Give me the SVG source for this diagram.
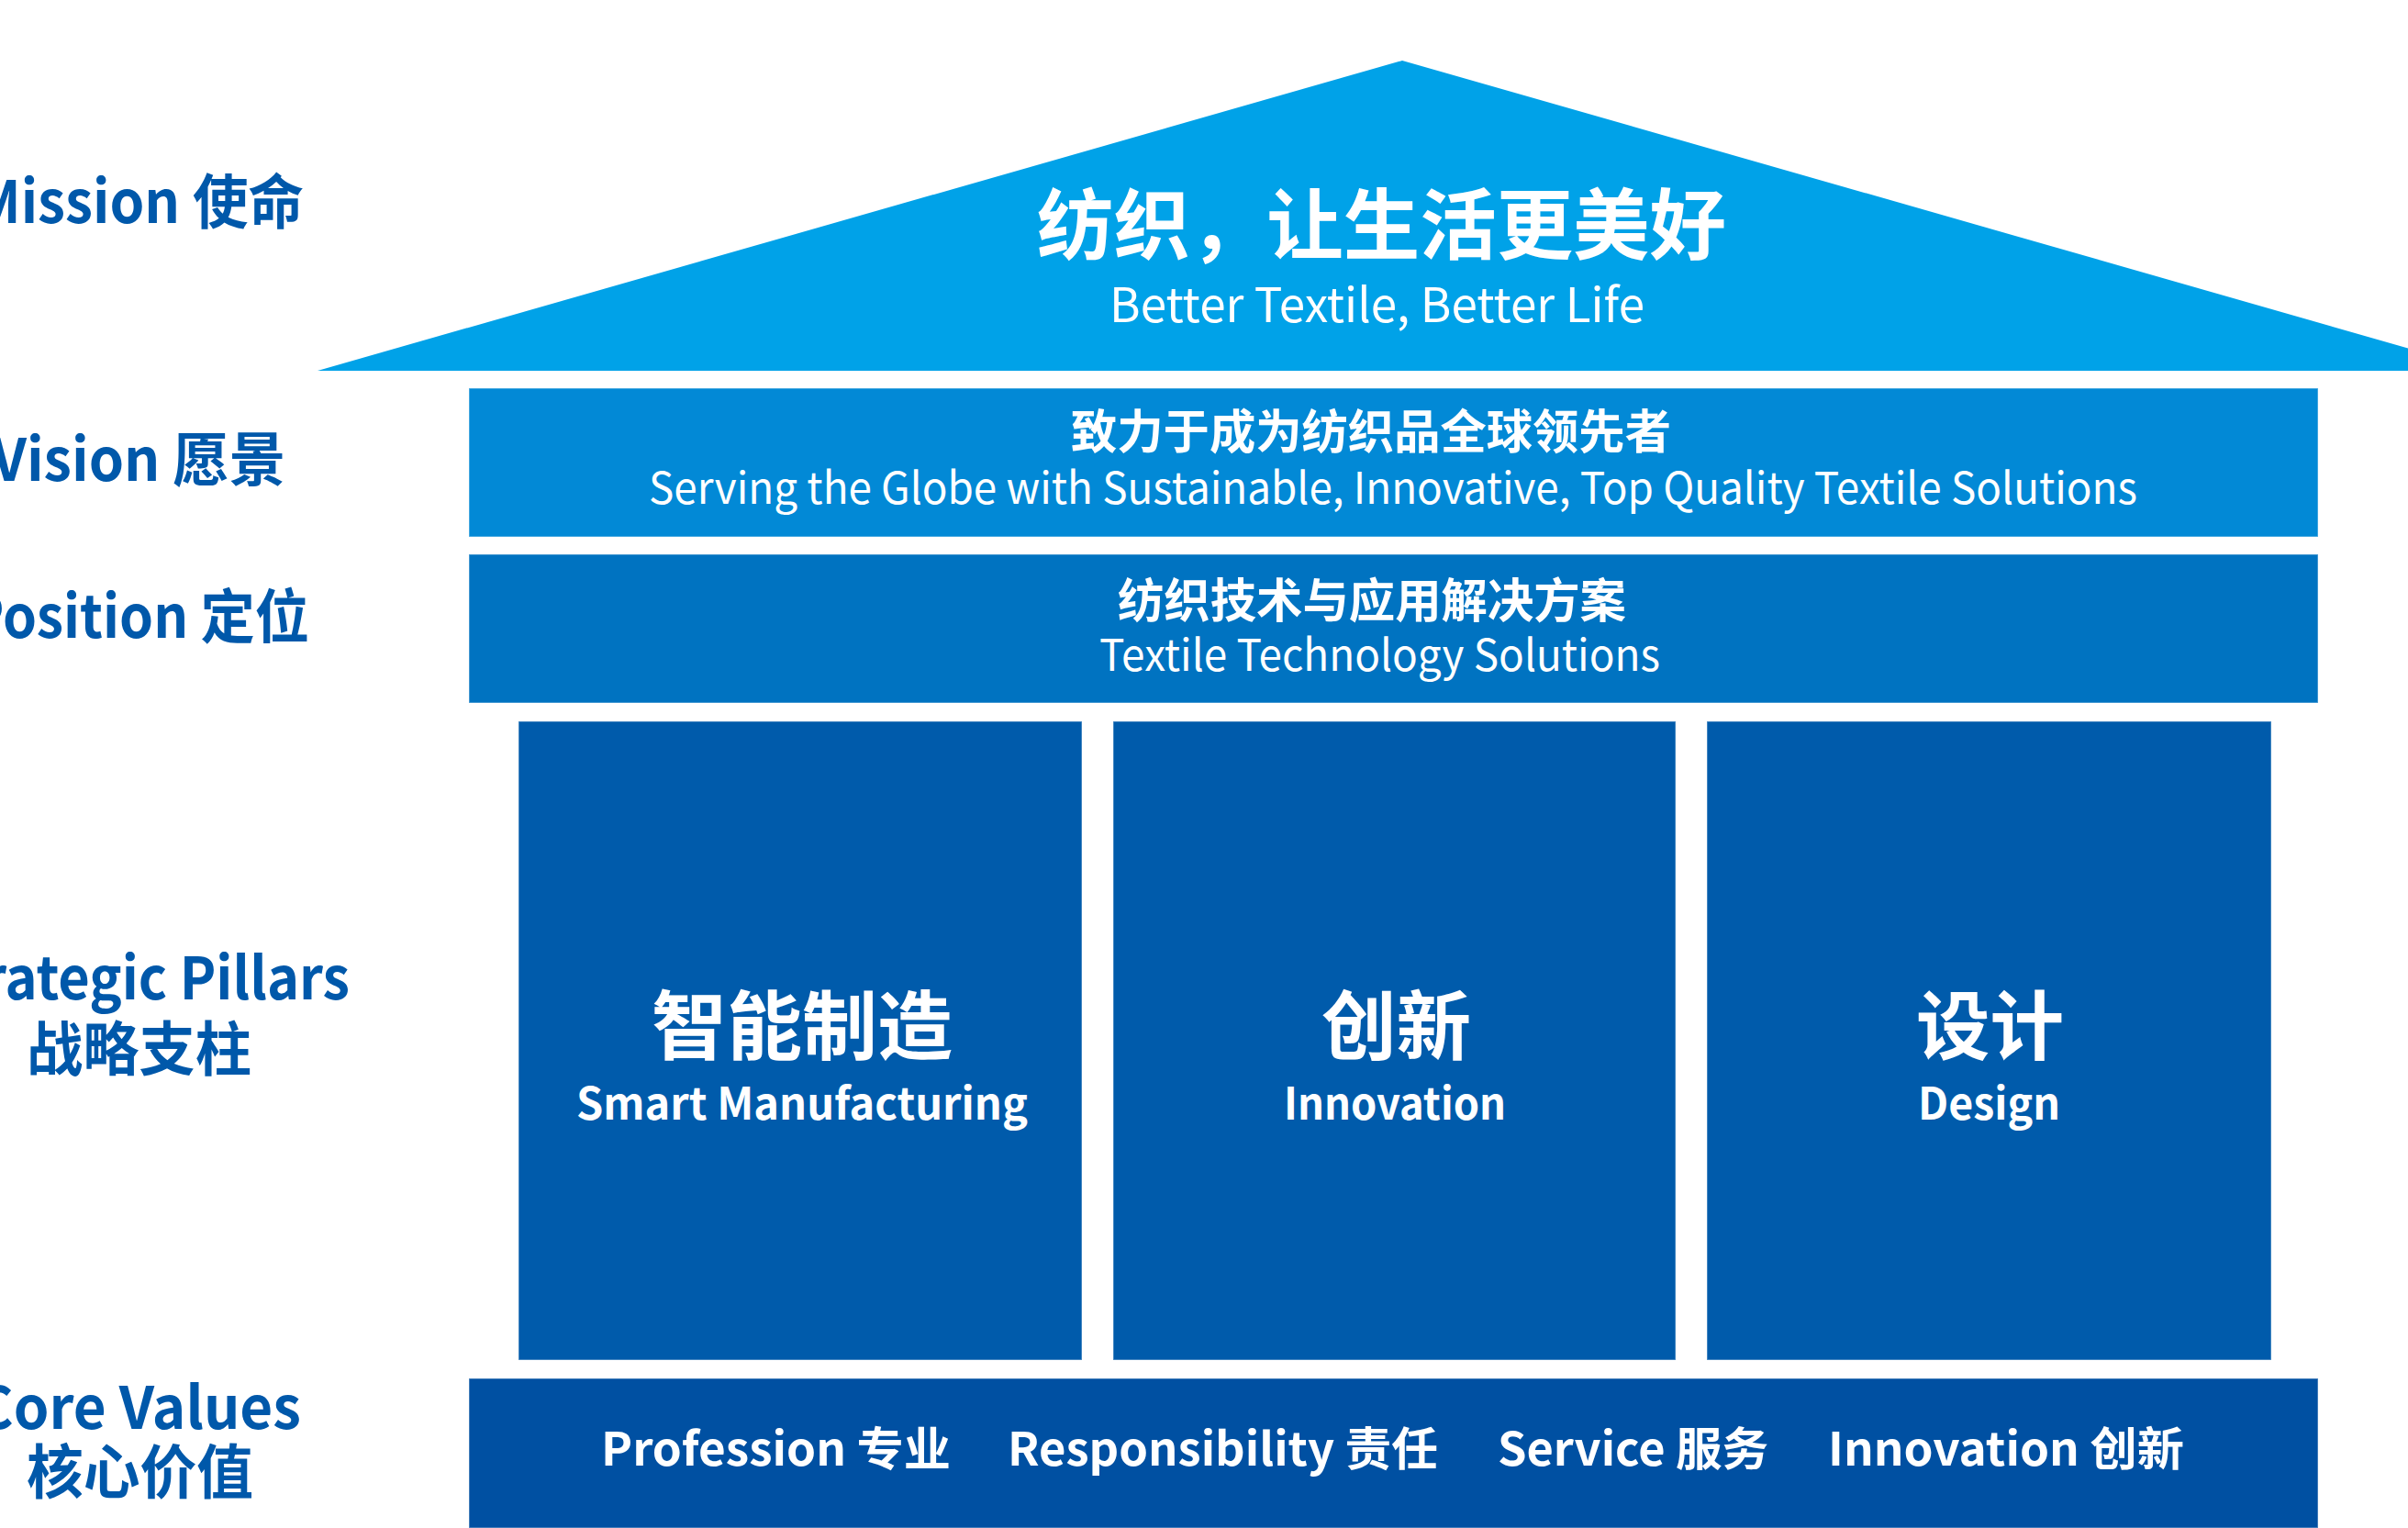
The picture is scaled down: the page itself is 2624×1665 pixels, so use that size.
<svg xmlns="http://www.w3.org/2000/svg" width="2624" height="1665" viewBox="0 0 2624 1665">
<style>
text{font-family:"Noto Sans CJK SC","Noto Sans",sans-serif;}
.w{fill:#ffffff;text-anchor:middle;}
.b{font-weight:700;}
.r{font-weight:400;}
.lab{fill:#0058AA;font-weight:700;text-anchor:middle;font-size:64px;}
.edge{stroke:#ffffff;stroke-opacity:0.35;stroke-width:1.5;}
</style>
<rect width="2624" height="1665" fill="#ffffff"/>
<g id="labels">
<text class="lab" x="151" y="243" textLength="360" lengthAdjust="spacingAndGlyphs">Mission 使命</text>
<text class="lab" x="151" y="524" textLength="320" lengthAdjust="spacingAndGlyphs">Vision 愿景</text>
<text class="lab" x="151" y="695" textLength="372" lengthAdjust="spacingAndGlyphs">Position 定位</text>
<text class="lab" x="151" y="1089" textLength="460" lengthAdjust="spacingAndGlyphs">Strategic Pillars</text>
<text class="lab" x="151.5" y="1166" textLength="245" lengthAdjust="spacingAndGlyphs">战略支柱</text>
<text class="lab" x="151" y="1557" textLength="354" lengthAdjust="spacingAndGlyphs">Core Values</text>
<text class="lab" x="152.5" y="1627" textLength="247" lengthAdjust="spacingAndGlyphs">核心价值</text>
</g>
<g id="mission">
<polygon points="346,404 1528,66 2710,404" fill="#00A2E8"/>
<text class="w b" x="1505.5" y="276" font-size="84" textLength="751" lengthAdjust="spacingAndGlyphs">纺织，让生活更美好</text>
<text class="w r" x="1500.5" y="351" font-size="52" textLength="583" lengthAdjust="spacingAndGlyphs">Better Textile, Better Life</text>
</g>
<g id="vision">
<rect class="edge" x="511" y="423" width="2015" height="162" fill="#0289D6"/>
<text class="w b" x="1494" y="489" font-size="51" textLength="654" lengthAdjust="spacingAndGlyphs">致力于成为纺织品全球领先者</text>
<text class="w r" x="1518" y="549" font-size="48" textLength="1622" lengthAdjust="spacingAndGlyphs">Serving the Globe with Sustainable, Innovative, Top Quality Textile Solutions</text>
</g>
<g id="position">
<rect class="edge" x="511" y="604" width="2015" height="162" fill="#0073C1"/>
<text class="w b" x="1495" y="673" font-size="51" textLength="554" lengthAdjust="spacingAndGlyphs">纺织技术与应用解决方案</text>
<text class="w r" x="1503.5" y="731" font-size="48" textLength="611" lengthAdjust="spacingAndGlyphs">Textile Technology Solutions</text>
</g>
<g id="pillar-smart-manufacturing">
<rect class="edge" x="565" y="786" width="614" height="696" fill="#005BAB"/>
<text class="w b" x="874" y="1148" font-size="82" textLength="328" lengthAdjust="spacingAndGlyphs">智能制造</text>
<text class="w b" x="874" y="1220" font-size="48" textLength="492" lengthAdjust="spacingAndGlyphs">Smart Manufacturing</text>
</g>
<g id="pillar-innovation">
<rect class="edge" x="1213" y="786" width="613" height="696" fill="#005BAB"/>
<text class="w b" x="1521.5" y="1148" font-size="82" textLength="163" lengthAdjust="spacingAndGlyphs">创新</text>
<text class="w b" x="1520" y="1220" font-size="48" textLength="242" lengthAdjust="spacingAndGlyphs">Innovation</text>
</g>
<g id="pillar-design">
<rect class="edge" x="1860" y="786" width="615" height="696" fill="#005BAB"/>
<text class="w b" x="2168.5" y="1148" font-size="82" textLength="161" lengthAdjust="spacingAndGlyphs">设计</text>
<text class="w b" x="2167.5" y="1220" font-size="48" textLength="155" lengthAdjust="spacingAndGlyphs">Design</text>
</g>
<g id="core-values">
<rect class="edge" x="511" y="1502" width="2015" height="163" fill="#0050A2"/>
<text class="w b" x="845.5" y="1597" font-size="50" textLength="381" lengthAdjust="spacingAndGlyphs">Profession 专业</text>
<text class="w b" x="1332.5" y="1597" font-size="50" textLength="469" lengthAdjust="spacingAndGlyphs">Responsibility 责任</text>
<text class="w b" x="1779.5" y="1597" font-size="50" textLength="295" lengthAdjust="spacingAndGlyphs">Service 服务</text>
<text class="w b" x="2186" y="1597" font-size="50" textLength="388" lengthAdjust="spacingAndGlyphs">Innovation 创新</text>
</g>
<g id="connectors"></g>
</svg>
